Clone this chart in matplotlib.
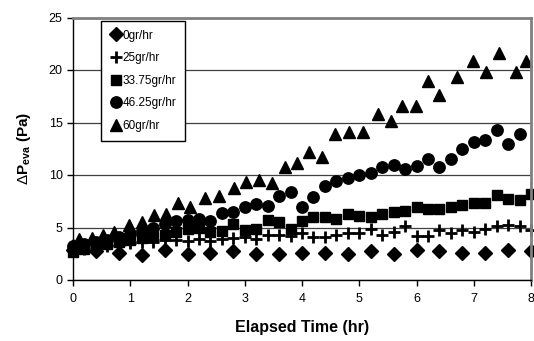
import matplotlib
matplotlib.use("Agg")
import matplotlib.pyplot as plt

plt.rcParams["font.family"] = ["Liberation Sans", "DejaVu Sans"]
plt.rcParams["mathtext.fontset"] = "custom"
plt.rcParams["mathtext.rm"] = "Liberation Sans"
plt.rcParams["mathtext.bf"] = "Liberation Sans:bold"

# 0 gr/hr (diamonds), every 0.4 hr
t_0 = [0.0, 0.4, 0.8, 1.2, 1.6, 2.0, 2.4, 2.8, 3.2, 3.6, 4.0,
       4.4, 4.8, 5.2, 5.6, 6.0, 6.4, 6.8, 7.2, 7.6, 8.0]
p_0 = [2.9, 2.8, 2.6, 2.4, 2.9, 2.45, 2.55, 2.8, 2.5, 2.5, 2.6,
       2.55, 2.5, 2.8, 2.5, 2.85, 2.8, 2.55, 2.55, 2.85, 2.75]

# 25 gr/hr (crosses), every 0.2 hr
t_25 = [0.0, 0.2, 0.4, 0.6, 0.8, 1.0, 1.2, 1.4, 1.6, 1.8, 2.0,
        2.2, 2.4, 2.6, 2.8, 3.0, 3.2, 3.4, 3.6, 3.8, 4.0,
        4.2, 4.4, 4.6, 4.8, 5.0, 5.2, 5.4, 5.6, 5.8, 6.0,
        6.2, 6.4, 6.6, 6.8, 7.0, 7.2, 7.4, 7.6, 7.8, 8.0]
p_25 = [3.0, 3.0, 3.1, 3.2, 3.3, 3.5, 3.65, 3.6, 3.8, 3.8, 3.75,
        3.9, 3.7, 3.95, 3.97, 4.1, 3.9, 4.3, 4.3, 4.2, 4.5,
        4.1, 4.05, 4.3, 4.45, 4.45, 4.85, 4.3, 4.6, 5.1, 4.2,
        4.2, 4.75, 4.5, 4.8, 4.6, 4.9, 5.1, 5.25, 5.1, 4.75]

# 33.75 gr/hr (squares)
t_3375 = t_25
p_3375 = [2.7, 3.0, 3.2, 3.4, 3.6, 3.8, 4.0, 4.1, 4.3, 4.6, 4.9,
          5.0, 4.6, 4.7, 5.3, 4.8, 4.9, 5.7, 5.5, 4.9, 5.6,
          6.0, 6.0, 5.8, 6.3, 6.1, 6.0, 6.3, 6.5, 6.6, 7.0,
          6.8, 6.8, 7.0, 7.1, 7.3, 7.3, 8.1, 7.7, 7.6, 8.2]

# 46.25 gr/hr (circles)
t_4625 = t_25[:-1]
p_4625 = [3.2, 3.4, 3.6, 3.8, 4.1, 4.4, 4.7, 5.0, 5.3, 5.6, 5.7,
          5.8, 5.6, 6.35, 6.45, 6.95, 7.2, 7.05, 8.0, 8.4, 7.0,
          7.9, 9.0, 9.45, 9.7, 10.0, 10.2, 10.8, 11.0, 10.55, 10.85,
          11.5, 10.8, 11.5, 12.5, 13.1, 13.3, 14.3, 13.0, 13.9]

# 60 gr/hr (triangles)
t_60 = [0.0, 0.1, 0.33, 0.53, 0.72, 0.98, 1.2, 1.42, 1.62, 1.84, 2.05,
        2.3, 2.55, 2.81, 3.02, 3.25, 3.48, 3.7, 3.92, 4.12, 4.35,
        4.58, 4.82, 5.07, 5.32, 5.55, 5.74, 5.99, 6.2, 6.4, 6.71,
        6.98, 7.21, 7.44, 7.73, 7.92]
p_60 = [3.3, 3.87, 3.97, 4.29, 4.6, 5.24, 5.56, 6.19, 6.29, 7.3, 7.0,
        7.78, 8.03, 8.73, 9.36, 9.52, 9.21, 10.79, 11.11, 12.2, 11.74,
        13.9, 14.12, 14.12, 15.8, 15.15, 16.57, 16.57, 18.98, 17.62, 19.3,
        20.89, 19.78, 21.65, 19.78, 20.89]

fig, ax = plt.subplots(figsize=(5.34, 3.41), dpi=100)
fig.subplots_adjust(left=73 / 534, right=531 / 534,
                    bottom=(341 - 280) / 341, top=(341 - 17.5) / 341)

ax.plot(t_0, p_0, "D", color="black", markersize=7.2, label="0gr/hr", clip_on=False)
ax.plot(t_25, p_25, "+", color="black", markersize=8.5, markeredgewidth=2,
        label="25gr/hr", clip_on=False)
ax.plot(t_3375, p_3375, "s", color="black", markersize=7.4,
        label="33.75gr/hr", clip_on=False)
ax.plot(t_4625, p_4625, "o", color="black", markersize=8.2,
        label="46.25gr/hr", clip_on=False)
ax.plot(t_60, p_60, "^", color="black", markersize=8.8,
        label="60gr/hr", clip_on=False)

ax.set_xlim(0, 8)
ax.set_ylim(0, 25)
ax.set_xticks(range(0, 9))
ax.set_yticks(range(0, 26, 5))
ax.yaxis.grid(True, color="#404040", linewidth=0.9)
ax.set_axisbelow(True)

for side in ("top", "right"):
    ax.spines[side].set_color("#808080")
    ax.spines[side].set_linewidth(2)
for side in ("left", "bottom"):
    ax.spines[side].set_color("black")
    ax.spines[side].set_linewidth(1)

ax.tick_params(axis="both", direction="out", length=4, width=1,
               labelsize=9, colors="black")
ax.tick_params(axis="x", pad=5)

ax.set_xlabel("Elapsed Time (hr)", fontsize=11.5, fontweight="bold", labelpad=11)
ax.set_ylabel(r"$\Delta\mathbf{P}_{\mathbf{eva}}$ (Pa)", fontsize=11,
              fontweight="bold", labelpad=11)

# legend box in the upper left of the plot area
leg = ax.legend(loc="upper left", bbox_to_anchor=(0.062, 0.988), borderaxespad=0,
                fontsize=8.5, frameon=True, fancybox=False, framealpha=1,
                edgecolor="black", handlelength=0.9, handletextpad=0.15,
                labelspacing=0.9, borderpad=0.75, numpoints=1)
leg.get_frame().set_linewidth(1)

fig.savefig("out.png", dpi=100, facecolor="white")
